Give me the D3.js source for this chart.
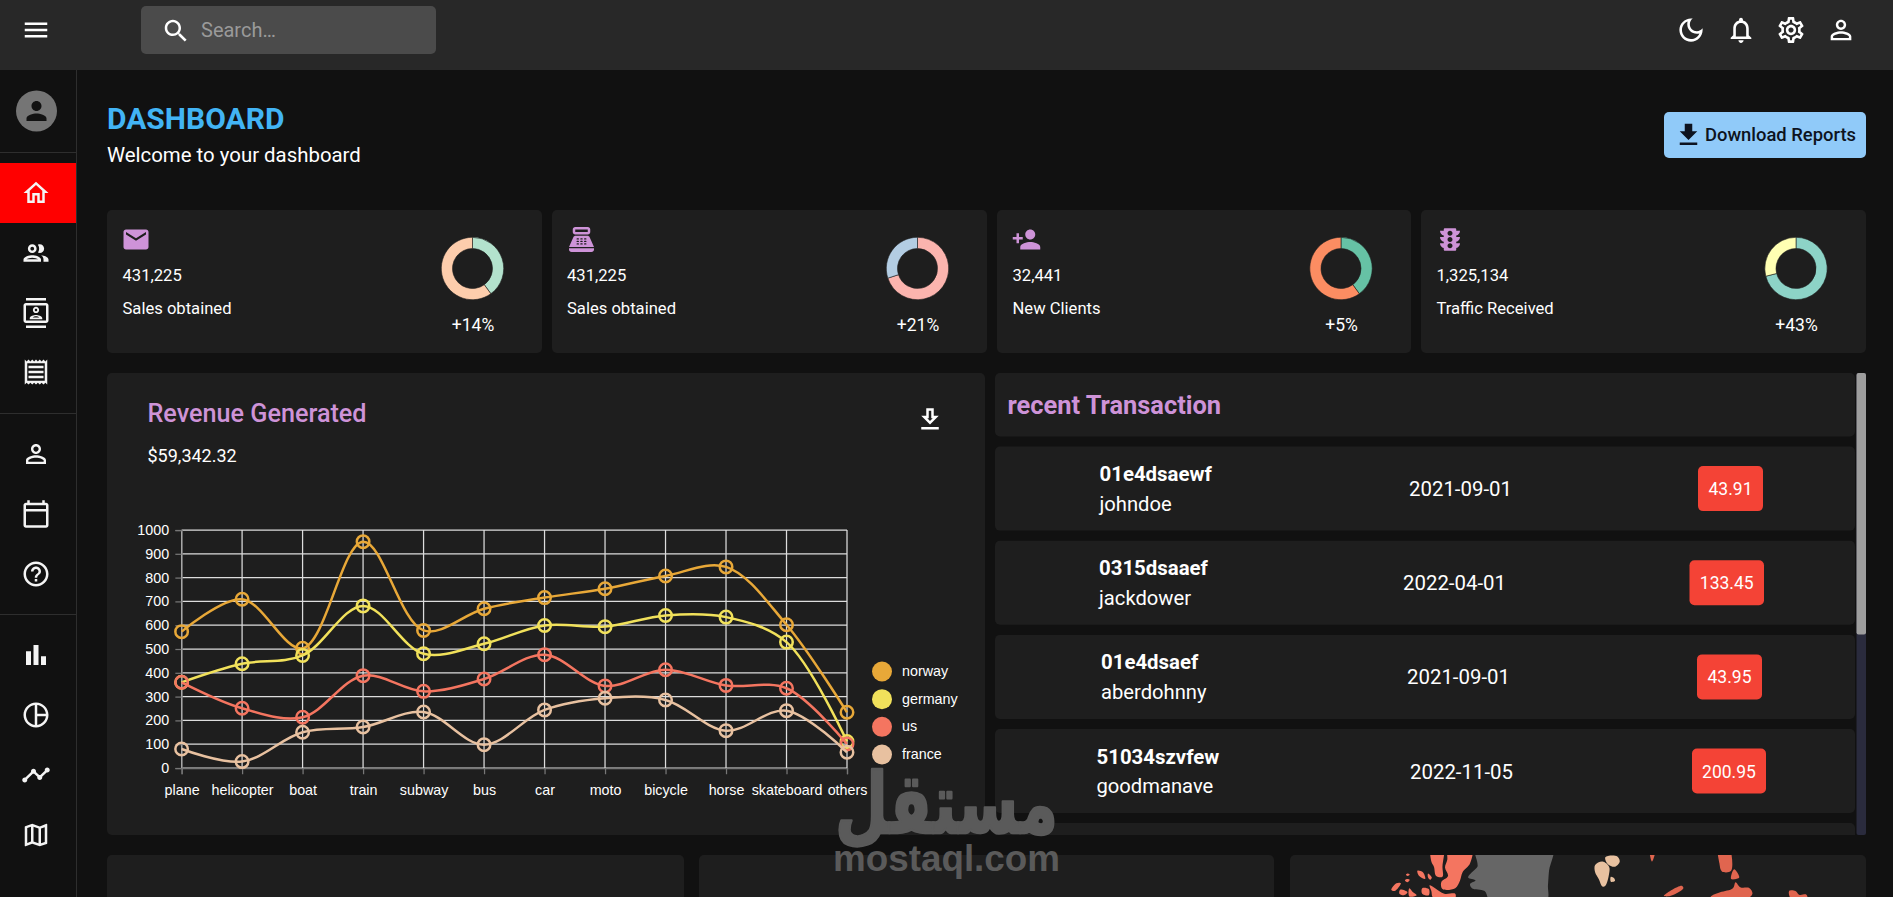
<!DOCTYPE html>
<html>
<head>
<meta charset="utf-8">
<title>Dashboard</title>
<script src="https://cdn.jsdelivr.net/npm/d3@7"></script>
<style>
html, body { margin: 0; padding: 0; background: #111111; overflow: hidden; }
svg { display: block; }
text { font-family: Roboto, sans-serif; fill: #fff; }
.chart text { font-family: "Liberation Sans", Arial, sans-serif; font-size: 14.3px; fill: #fff; }
</style>
</head>
<body>
<svg id="page" width="1893" height="897"></svg>
<script>
// line chart
const vehicles = ["plane", "helicopter", "boat", "train", "subway", "bus", "car", "moto", "bicycle", "horse", "skateboard", "others"];
const norway = [573, 709, 503, 951, 578, 669, 716, 753, 807, 845, 602, 234];
const germany = [360, 438, 473, 681, 480, 522, 599, 594, 641, 634, 529, 111];
const us = [360, 251, 213, 388, 322, 374, 476, 345, 413, 347, 335, 101];
const france = [80, 27, 150, 172, 235, 98, 244, 293, 286, 157, 241, 66];
const countryNames = ["norway", "germany", "us", "france"];
const yTicks = [0, 100, 200, 300, 400, 500, 600, 700, 800, 900, 1000];

// stat cards
const statValues = ["431,225", "431,225", "32,441", "1,325,134"];
const statLabels = ["Sales obtained", "Sales obtained", "New Clients", "Traffic Received"];
const statChanges = ["+14%", "+21%", "+5%", "+43%"];
const statShares = [[40, 60], [70, 30], [40, 60], [71, 29]];

// transactions
const txIds = ["01e4dsaewf", "0315dsaaef", "01e4dsaef", "51034szvfew"];
const txUsers = ["johndoe", "jackdower", "aberdohnny", "goodmanave"];
const txDates = ["2021-09-01", "2022-04-01", "2021-09-01", "2022-11-05"];
const txCosts = ["43.91", "133.45", "43.95", "200.95"];

// arctic edge of the map, [lon, lat]
const axelHeiberg = [[-97.7,82],[-89.6,82],[-90.3,79.5],[-90.3,78.2],[-94.5,78.3],[-96,79.5],[-97.7,80.1]];
const ellesmere = [[-86.6,82],[-70.7,82],[-71.9,79.9],[-76.9,78.8],[-78.6,77.7],[-81.8,76.55],[-90.3,76.4],[-91.1,77.45],[-86.6,78.3],[-88.6,79.4],[-87.1,80.3]];
const canadaSmall = [
  [[-107,79],[-103.3,78.8],[-101.8,77.9],[-105.8,78.3]],
  [[-113.6,78.65],[-112.1,78.5],[-113.6,78.3],[-114.6,78.5]],
  [[-114.1,77.9],[-112.1,77.8],[-113.6,77.45],[-115.3,77.7]],
  [[-99.9,78.65],[-97.4,78.1],[-98.4,77.8],[-99.9,78.1]],
  [[-121,77.3],[-118,77.3],[-122.2,76.1],[-124.4,76.3]],
  [[-118.5,76.3],[-113.6,75.9],[-116,75.4],[-119,75.65]],
  [[-112.4,76.55],[-109.9,75.9],[-107.5,75.4],[-112.4,75.2]],
  [[-103.8,76.55],[-99.4,76.4],[-99.4,75.4],[-103.8,75.65]],
  [[-98.9,77],[-95.2,76.55],[-89.1,75.65],[-81.8,75.65],[-81.8,75],[-96.5,75],[-97.7,76.1]]
];
const greenland = [[-68.3,82],[-16.8,82],[-19.3,79],[-20,77],[-21,74.5],[-58.5,74.5],[-62.2,76.1],[-70.7,76.55],[-71.9,77.2],[-68.3,77.7],[-73.2,78.1],[-70.7,78.8],[-67,79.5],[-67,79.9]];
const svalbard = [
  [[11.4,79.7],[16.3,80.1],[20.7,79.5],[20.7,78.6],[18.2,76.9],[16.3,76.8],[13.8,77.9],[11.4,78.8]],
  [[18.2,80.6],[26,80.7],[27.8,80.1],[24.8,79.5],[19.9,79.8]],
  [[21.9,78.2],[24.1,78],[24.6,77.6],[21.9,77.5]]
];
const russia = [
  [[47.6,82],[52,82],[49.3,80.1]],
  [[93.4,82],[99.6,82],[102,79],[95.9,78.9],[94.2,79.9]],
  [[104,79.2],[107.4,78.1],[102,77.9]],
  [[57.2,75.3],[69,76.9],[70.2,76.55],[62.8,75.4],[59.1,75.2]],
  [[88.5,75.2],[94.7,75.9],[103.2,76.55],[105,77.45],[108.1,76.7],[114.3,76.55],[116.2,75.65],[113,74.9],[88.5,74.9]],
  [[140.7,76.1],[144.9,76.1],[147.3,75.5],[152.2,75.5],[152.7,74.9],[141.7,74.9]]
];

// material icon paths
const icons = {
  menu: "M3 18h18v-2H3v2zm0-5h18v-2H3v2zm0-7v2h18V6H3z",
  search: "M15.5 14h-.79l-.28-.27C15.41 12.59 16 11.11 16 9.5 16 5.91 13.09 3 9.5 3S3 5.91 3 9.5 5.91 16 9.5 16c1.61 0 3.09-.59 4.23-1.57l.27.28v.79l5 4.99L20.49 19l-4.99-5zm-6 0C7.01 14 5 11.99 5 9.5S7.01 5 9.5 5 14 7.01 14 9.5 11.99 14 9.5 14z",
  moon: "M9.37 5.51c-.18.64-.27 1.31-.27 1.99 0 4.08 3.32 7.4 7.4 7.4.68 0 1.35-.09 1.99-.27C17.45 17.19 14.93 19 12 19c-3.86 0-7-3.14-7-7 0-2.93 1.81-5.45 4.37-6.49zM12 3c-4.97 0-9 4.03-9 9s4.03 9 9 9 9-4.03 9-9c0-.46-.04-.92-.1-1.36-.98 1.37-2.58 2.26-4.4 2.26-2.98 0-5.4-2.42-5.4-5.4 0-1.81.89-3.42 2.26-4.4-.44-.06-.9-.1-1.36-.1z",
  bell: "M12 22c1.1 0 2-.9 2-2h-4c0 1.1.9 2 2 2zm6-6v-5c0-3.07-1.63-5.64-4.5-6.32V4c0-.83-.67-1.5-1.5-1.5s-1.5.67-1.5 1.5v.68C7.64 5.36 6 7.92 6 11v5l-2 2v1h16v-1l-2-2zm-2 1H8v-6c0-2.48 1.51-4.5 4-4.5s4 2.02 4 4.5v6z",
  gear: "M19.43 12.98c.04-.32.07-.64.07-.98 0-.34-.03-.66-.07-.98l2.11-1.65c.19-.15.24-.42.12-.64l-2-3.46c-.09-.16-.26-.25-.44-.25-.06 0-.12.01-.17.03l-2.49 1c-.52-.4-1.08-.73-1.69-.98l-.38-2.65C14.46 2.18 14.25 2 14 2h-4c-.25 0-.46.18-.49.42l-.38 2.65c-.61.25-1.17.59-1.69.98l-2.49-1c-.06-.02-.12-.03-.18-.03-.17 0-.34.09-.43.25l-2 3.46c-.13.22-.07.49.12.64l2.11 1.65c-.04.32-.07.65-.07.98 0 .33.03.66.07.98l-2.11 1.65c-.19.15-.24.42-.12.64l2 3.46c.09.16.26.25.44.25.06 0 .12-.01.17-.03l2.49-1c.52.4 1.08.73 1.69.98l.38 2.65c.03.24.24.42.49.42h4c.25 0 .46-.18.49-.42l.38-2.65c.61-.25 1.17-.59 1.69-.98l2.49 1c.06.02.12.03.18.03.17 0 .34-.09.43-.25l2-3.46c.12-.22.07-.49-.12-.64l-2.11-1.65zm-1.98-1.71c.04.31.05.52.05.73 0 .21-.02.43-.05.73l-.14 1.13.89.7 1.08.84-.7 1.21-1.27-.51-1.04-.42-.9.68c-.43.32-.84.56-1.25.73l-1.06.43-.16 1.13-.2 1.35h-1.4l-.19-1.35-.16-1.13-1.06-.43c-.43-.18-.83-.41-1.23-.71l-.91-.7-1.06.43-1.27.51-.7-1.21 1.08-.84.89-.7-.14-1.13c-.03-.31-.05-.54-.05-.74s.02-.43.05-.73l.14-1.13-.89-.7-1.08-.84.7-1.21 1.27.51 1.04.42.9-.68c.43-.32.84-.56 1.25-.73l1.06-.43.16-1.13.2-1.35h1.39l.19 1.35.16 1.13 1.06.43c.43.18.83.41 1.23.71l.91.7 1.06-.43 1.27-.51.7 1.21-1.07.85-.89.7.14 1.13zM12 8c-2.21 0-4 1.79-4 4s1.79 4 4 4 4-1.79 4-4-1.79-4-4-4zm0 6c-1.1 0-2-.9-2-2s.9-2 2-2 2 .9 2 2-.9 2-2 2z",
  person: "M12 5.9c1.16 0 2.1.94 2.1 2.1s-.94 2.1-2.1 2.1S9.9 9.16 9.9 8s.94-2.1 2.1-2.1m0 9c2.97 0 6.1 1.46 6.1 2.1v1.1H5.9V17c0-.64 3.13-2.1 6.1-2.1M12 4C9.79 4 8 5.79 8 8s1.79 4 4 4 4-1.79 4-4-1.79-4-4-4zm0 9c-2.67 0-8 1.34-8 4v3h16v-3c0-2.66-5.33-4-8-4z",
  personSolid: "M12 12c2.21 0 4-1.79 4-4s-1.79-4-4-4-4 1.79-4 4 1.79 4 4 4zm0 2c-2.67 0-8 1.34-8 4v2h16v-2c0-2.66-5.33-4-8-4z",
  home: "M12 5.69l5 4.5V18h-2v-6H9v6H7v-7.81l5-4.5M12 3L2 12h3v8h6v-6h2v6h6v-8h3L12 3z",
  people: "M9 13.75c-2.34 0-7 1.17-7 3.5V19h14v-1.75c0-2.33-4.66-3.5-7-3.5zM4.34 17c.84-.58 2.87-1.25 4.66-1.25s3.82.67 4.66 1.25H4.34zM9 12c1.93 0 3.5-1.57 3.5-3.5S10.93 5 9 5 5.5 6.57 5.5 8.5 7.07 12 9 12zm0-5c.83 0 1.5.67 1.5 1.5S9.83 10 9 10s-1.5-.67-1.5-1.5S8.17 7 9 7zm7.04 6.81c1.16.84 1.96 1.96 1.96 3.44V19h4v-1.75c0-2.02-3.5-3.17-5.96-3.44zM15 12c1.93 0 3.5-1.57 3.5-3.5S16.93 5 15 5c-.54 0-1.04.13-1.5.35.63.89 1 1.98 1 3.15s-.37 2.26-1 3.15c.46.22.96.35 1.5.35z",
  contacts: "M20 0H4v2h16V0zM4 24h16v-2H4v2zM20 4H4c-1.1 0-2 .9-2 2v12c0 1.1.9 2 2 2h16c1.1 0 2-.9 2-2V6c0-1.1-.9-2-2-2zm0 14H4V6h16v12zm-8-6c1.38 0 2.5-1.12 2.5-2.5S13.38 7 12 7 9.5 8.12 9.5 9.5 10.62 12 12 12zm0-3.5c.55 0 1 .45 1 1s-.45 1-1 1-1-.45-1-1 .45-1 1-1zM17 17v-1c0-1.67-3.33-2.5-5-2.5s-5 .83-5 2.5v1h10zm-5-2.5c.9 0 2 .3 2.7 1H9.3c.7-.7 1.8-1 2.7-1z",
  receipt: "M19.5 3.5 18 2l-1.5 1.5L15 2l-1.5 1.5L12 2l-1.5 1.5L9 2 7.5 3.5 6 2 4.5 3.5 3 2v20l1.5-1.5L6 22l1.5-1.5L9 22l1.5-1.5L12 22l1.5-1.5L15 22l1.5-1.5L18 22l1.5-1.5L21 22V2l-1.5 1.5zM19 19.09H5V4.91h14v14.18zM6 15h12v2H6zm0-4h12v2H6zm0-4h12v2H6z",
  calendar: "M20 3h-1V1h-2v2H7V1H5v2H4c-1.1 0-2 .9-2 2v16c0 1.1.9 2 2 2h16c1.1 0 2-.9 2-2V5c0-1.1-.9-2-2-2zm0 2v3H4V5h16zM4 21V10h16v11H4z",
  help: "M11 18h2v-2h-2v2zm1-16C6.48 2 2 6.48 2 12s4.48 10 10 10 10-4.48 10-10S17.52 2 12 2zm0 18c-4.41 0-8-3.59-8-8s3.59-8 8-8 8 3.59 8 8-3.59 8-8 8zm0-14c-2.21 0-4 1.79-4 4h2c0-1.1.9-2 2-2s2 .9 2 2c0 2-3 1.75-3 5h2c0-2.25 3-2.5 3-5 0-2.21-1.79-4-4-4z",
  bar: "M4 9h4v11H4zm12 4h4v7h-4zm-6-9h4v16h-4z",
  pie: "M12 2C6.48 2 2 6.48 2 12s4.48 10 10 10 10-4.48 10-10S17.52 2 12 2zm7.93 9H13V4.07c3.61.45 6.48 3.32 6.93 6.93zM4 12c0-4.07 3.06-7.44 7-7.93v15.86c-3.94-.49-7-3.86-7-7.93zm9 7.93V13h6.93c-.45 3.61-3.32 6.48-6.93 6.93z",
  timeline: "M23 8c0 1.1-.9 2-2 2-.18 0-.35-.02-.51-.07l-3.56 3.55c.05.16.07.34.07.52 0 1.1-.9 2-2 2s-2-.9-2-2c0-.18.02-.36.07-.52l-2.55-2.55c-.16.05-.34.07-.52.07s-.36-.02-.52-.07l-4.55 4.56c.05.16.07.33.07.51 0 1.1-.9 2-2 2s-2-.9-2-2 .9-2 2-2c.18 0 .35.02.51.07l4.56-4.55C8.02 9.36 8 9.18 8 9c0-1.1.9-2 2-2s2 .9 2 2c0 .18-.02.36-.07.52l2.55 2.55c.16-.05.34-.07.52-.07s.36.02.52.07l3.55-3.56C19.02 8.35 19 8.18 19 8c0-1.1.9-2 2-2s2 .9 2 2z",
  map: "M20.5 3l-.16.03L15 5.1 9 3 3.36 4.9c-.21.07-.36.25-.36.48V20.5c0 .28.22.5.5.5l.16-.03L9 18.9l6 2.1 5.64-1.9c.21-.07.36-.25.36-.48V3.5c0-.28-.22-.5-.5-.5zM10 5.47l4 1.4v11.66l-4-1.4V5.47zm-5 .99l3-1.01v11.7l-3 1.16V6.46zm14 11.08l-3 1.01V6.86l3-1.16v11.84z",
  download: "M5 20h14v-2H5v2zM19 9h-4V3H9v6H5l7 7 7-7z",
  downloadOutline: "M5 18h14v2H5v-2zm14-9h-4V3H9v6H5l7 7 7-7zm-8 2V5h2v6h1.17L12 13.17 9.83 11H11z",
  email: "M20 4H4c-1.1 0-1.99.9-1.99 2L2 18c0 1.1.9 2 2 2h16c1.1 0 2-.9 2-2V6c0-1.1-.9-2-2-2zm0 4l-8 5-8-5V6l8 5 8-5v2z",
  pos: "M17 2H7c-1.1 0-2 .9-2 2v2c0 1.1.9 2 2 2h10c1.1 0 2-.9 2-2V4c0-1.1-.9-2-2-2zm0 4H7V4h10v2zm3 16H4c-1.1 0-2-.9-2-2v-1h20v1c0 1.1-.9 2-2 2zm-1.47-11.81C18.21 9.47 17.49 9 16.7 9H7.3c-.79 0-1.51.47-1.83 1.19L2 18h20l-3.47-7.81zM9.5 16h-1c-.28 0-.5-.22-.5-.5s.22-.5.5-.5h1c.28 0 .5.22.5.5s-.22.5-.5.5zm0-2h-1c-.28 0-.5-.22-.5-.5s.22-.5.5-.5h1c.28 0 .5.22.5.5s-.22.5-.5.5zm0-2h-1c-.28 0-.5-.22-.5-.5s.22-.5.5-.5h1c.28 0 .5.22.5.5s-.22.5-.5.5zm3 4h-1c-.28 0-.5-.22-.5-.5s.22-.5.5-.5h1c.28 0 .5.22.5.5s-.22.5-.5.5zm0-2h-1c-.28 0-.5-.22-.5-.5s.22-.5.5-.5h1c.28 0 .5.22.5.5s-.22.5-.5.5zm0-2h-1c-.28 0-.5-.22-.5-.5s.22-.5.5-.5h1c.28 0 .5.22.5.5s-.22.5-.5.5zm3 4h-1c-.28 0-.5-.22-.5-.5s.22-.5.5-.5h1c.28 0 .5.22.5.5s-.22.5-.5.5zm0-2h-1c-.28 0-.5-.22-.5-.5s.22-.5.5-.5h1c.28 0 .5.22.5.5s-.22.5-.5.5zm0-2h-1c-.28 0-.5-.22-.5-.5s.22-.5.5-.5h1c.28 0 .5.22.5.5s-.22.5-.5.5z",
  personAdd: "M15 12c2.21 0 4-1.79 4-4s-1.79-4-4-4-4 1.79-4 4 1.79 4 4 4zm-9-2V7H4v3H1v2h3v3h2v-3h3v-2H6zm9 4c-2.67 0-8 1.34-8 4v2h16v-2c0-2.66-5.33-4-8-4z",
  traffic: "M20 10h-3V8.86c1.72-.45 3-2 3-3.86h-3V4c0-.55-.45-1-1-1H8c-.55 0-1 .45-1 1v1H4c0 1.86 1.28 3.41 3 3.86V10H4c0 1.86 1.28 3.41 3 3.86V15H4c0 1.86 1.28 3.41 3 3.86V20c0 .55.45 1 1 1h8c.55 0 1-.45 1-1v-1.14c1.72-.45 3-2 3-3.86h-3v-1.14c1.72-.45 3-2 3-3.86zm-8 9c-1.11 0-2-.9-2-2s.89-2 2-2c1.1 0 2 .9 2 2s-.89 2-2 2zm0-5c-1.11 0-2-.9-2-2s.89-2 2-2c1.1 0 2 .9 2 2s-.89 2-2 2zm0-5c-1.11 0-2-.89-2-2 0-1.1.89-2 2-2 1.1 0 2 .9 2 2 0 1.11-.89 2-2 2z"
};

const svg = d3.select("#page");
const cardFill = "#1e1e1e";
const purple = "#ce93d8";

function rect(x0, y0, x1, y1, fill, r) {
  return svg.append("rect").attr("x", x0).attr("y", y0)
    .attr("width", x1 - x0).attr("height", y1 - y0)
    .attr("rx", r || 0).attr("fill", fill);
}
function icon(name, cx, cy, size, fill) {
  const k = size / 24;
  svg.append("path").attr("d", icons[name]).attr("fill", fill)
    .attr("transform", `translate(${cx - size / 2},${cy - size / 2}) scale(${k})`);
}
function label(str, x, y, size, weight, fill, anchor) {
  return svg.append("text").text(str).attr("x", x).attr("y", y)
    .attr("font-size", size).attr("font-weight", weight || 400)
    .style("fill", fill || "#fff").attr("text-anchor", anchor || "start");
}

// background, top bar, side bar
rect(0, 0, 1893, 897, "#111111");
rect(0, 0, 1893, 70, "#282828");
rect(141, 6, 436, 54, "#4b4b4b", 5);
icon("menu", 36, 30, 30, "#fff");
icon("search", 176, 31, 30, "#fff");
label("Search…", 201, 37, 20, 400, "#9a9a9a");
icon("moon", 1691, 30, 31, "#fff");
icon("bell", 1741, 30, 31, "#fff");
icon("gear", 1791, 30, 31, "#fff");
icon("person", 1841, 30, 31, "#fff");

rect(76, 70, 77, 897, "#2e2e2e");
rect(0, 152, 76, 153, "#2e2e2e");
rect(0, 413, 76, 414, "#2e2e2e");
rect(0, 614, 76, 615, "#2e2e2e");
rect(0, 163, 76, 223, "#ff0000");
svg.append("circle").attr("cx", 36.5).attr("cy", 111).attr("r", 20.5).attr("fill", "#757575");
icon("personSolid", 36.5, 111, 30, "#121212");
const navIcons = ["home", "people", "contacts", "receipt", "person", "calendar", "help", "bar", "pie", "timeline", "map"];
const navY = [193, 253, 313, 372, 454, 514, 574, 655, 715, 775, 835];
navIcons.forEach((name, i) => icon(name, 36, navY[i], 30, "#f4f4f4"));

// header
label("DASHBOARD", 107, 129, 30, 700, "#42b4f5");
label("Welcome to your dashboard", 107, 162, 20.4, 400);
rect(1664, 112, 1866, 158, "#90caf9", 5);
icon("download", 1688.5, 135, 30, "#0d1320");
label("Download Reports", 1705, 141, 18.4, 500, "#0d1320");

// stat cards
const cardX = [[107, 542], [552, 987], [997, 1411], [1421, 1866]];
const cardTextX = [122.5, 567, 1012.5, 1436.5];
const cardIconX = [136, 581.5, 1026.5, 1450];
const cardIcons = ["email", "pos", "personAdd", "traffic"];
const donutX = [472.5, 917.5, 1341, 1796];
const donutColors = [d3.schemePastel2, d3.schemePastel1, d3.schemeSet2, d3.schemeSet3];
const pie = d3.pie().sort(null);
const arc = d3.arc().innerRadius(20).outerRadius(31.2);

statValues.forEach((val, i) => {
  rect(cardX[i][0], 210, cardX[i][1], 353, cardFill, 5);
  icon(cardIcons[i], cardIconX[i], 239.5, 30, purple);
  label(val, cardTextX[i], 281, 16.6);
  label(statLabels[i], cardTextX[i], 314, 16.6);
  svg.append("g").attr("transform", `translate(${donutX[i]},268.5)`)
    .selectAll("path").data(pie(statShares[i])).join("path")
    .attr("d", arc)
    .attr("fill", (d, j) => donutColors[i][j])
    .attr("stroke", cardFill).attr("stroke-width", 0.6);
  label(statChanges[i], donutX[i] + 0.5, 331, 17.5, 400, "#fff", "middle");
});

// revenue panel
rect(107, 373, 985, 835, cardFill, 5);
label("Revenue Generated", 147.5, 421.5, 25.2, 500, purple);
label("$59,342.32", 147.5, 461.5, 18);
icon("downloadOutline", 930, 419.5, 30, "#fff");

const x = d3.scalePoint().domain(vehicles).range([181.6, 847]);
const y = d3.scaleLinear().domain([0, 1000]).range([768, 530]);
const chart = svg.append("g").attr("class", "chart");

chart.append("g").selectAll("line").data(yTicks).join("line")
  .attr("x1", x.range()[0]).attr("x2", x.range()[1])
  .attr("y1", d => y(d)).attr("y2", d => y(d))
  .attr("stroke", "#ddd").attr("stroke-width", 1.25);
chart.append("g").selectAll("line").data(vehicles).join("line")
  .attr("x1", d => x(d)).attr("x2", d => x(d))
  .attr("y1", y(0)).attr("y2", y(1000))
  .attr("stroke", "#ddd").attr("stroke-width", 1.25);

const xAxis = chart.append("g").attr("transform", `translate(0,${y(0)})`)
  .call(d3.axisBottom(x).tickSize(6.25).tickPadding(11));
const yAxis = chart.append("g").attr("transform", `translate(${x.range()[0]},0)`)
  .call(d3.axisLeft(y).tickValues(yTicks).tickFormat(d3.format("d")).tickSize(6.25).tickPadding(6.25));
[xAxis, yAxis].forEach(a => {
  a.attr("font-family", null).attr("font-size", null);
  a.selectAll("path.domain").attr("stroke", "#777").attr("stroke-width", 1.25);
  a.selectAll("line").attr("stroke", "#777").attr("stroke-width", 1.25);
});

const series = [norway, germany, us, france];
const seriesColor = d3.scaleOrdinal().domain(countryNames).range(["#e8a838", "#f1e15b", "#f47560", "#e8c1a0"]);
const line = d3.line().x((d, i) => x(vehicles[i])).y(d => y(d)).curve(d3.curveCatmullRom);

countryNames.forEach((name, s) => {
  const g = chart.append("g");
  g.append("path").attr("d", line(series[s])).attr("fill", "none")
    .attr("stroke", seriesColor(name)).attr("stroke-width", 2.5);
  g.selectAll("circle").data(series[s]).join("circle")
    .attr("cx", (d, i) => x(vehicles[i])).attr("cy", d => y(d)).attr("r", 6.25)
    .attr("fill", "none").attr("stroke", seriesColor(name)).attr("stroke-width", 2.5);
});

const legendY = d3.scalePoint().domain(countryNames).range([671.5, 754.5]);
chart.append("g").selectAll("circle").data(countryNames).join("circle")
  .attr("cx", 882).attr("cy", d => legendY(d)).attr("r", 10)
  .attr("fill", d => seriesColor(d));
chart.append("g").selectAll("text").data(countryNames).join("text")
  .attr("x", 902).attr("y", d => legendY(d) + 4.5).text(d => d);

// recent transactions
const rowTop = [446.6, 540.8, 634.9, 729];
const rowIdX = [1099.5, 1099, 1101, 1096.5];
const rowDateX = [1409, 1403, 1407, 1410];
const badgeX = [[1698, 1763], [1689.5, 1764], [1697, 1762], [1692, 1766]];

rect(995, 373, 1855, 436.5, cardFill, 5);
label("recent Transaction", 1007.5, 413.5, 25.4, 700, purple);
txIds.forEach((id, i) => {
  const t = rowTop[i];
  rect(995, t, 1855, t + 84, cardFill, 5);
  label(id, rowIdX[i], t + 34.5, 20.4, 700);
  label(txUsers[i], rowIdX[i], t + 64, 20.2);
  label(txDates[i], rowDateX[i], t + 49.5, 20.4);
  rect(badgeX[i][0], t + 19.5, badgeX[i][1], t + 64.5, "#f44336", 5);
  label(txCosts[i], (badgeX[i][0] + badgeX[i][1]) / 2, t + 48.5, 17.5, 400, "#fff", "middle");
});
// next row, cut by the scroll box
svg.append("clipPath").attr("id", "rowClip").append("rect")
  .attr("x", 995).attr("y", 373).attr("width", 860).attr("height", 462);
rect(995, 823, 1855, 907, cardFill, 5).attr("clip-path", "url(#rowClip)");
rect(1856.5, 373, 1866, 835, "#2a2b3d", 2);
rect(1856.5, 373, 1866, 634.5, "#9e9e9e", 2);

// bottom panels
rect(107, 855, 684, 910, cardFill, 5);
rect(699, 855, 1274, 910, cardFill, 5);
rect(1290, 855, 1866, 910, cardFill, 5);

const projection = d3.geoMercator().scale(86).translate([1578, 1072]);
const land = d3.line().x(d => projection(d)[0]).y(d => projection(d)[1]).curve(d3.curveCatmullRomClosed);
svg.append("clipPath").attr("id", "mapClip").append("rect")
  .attr("x", 1290).attr("y", 855).attr("width", 576).attr("height", 42);
const mapG = svg.append("g").attr("clip-path", "url(#mapClip)");
function drawLand(rings, fill) {
  mapG.append("g").selectAll("path").data(rings).join("path")
    .attr("d", land).attr("fill", fill);
}
drawLand([axelHeiberg, ellesmere].concat(canadaSmall), "#f47560");
drawLand([greenland], "#666666");
drawLand(svalbard, "#e8c1a0");
drawLand(russia, "#e0654f");

// watermark
svg.append("text").text("مستقل").attr("x", 946.5).attr("y", 833)
  .attr("text-anchor", "middle").attr("direction", "rtl")
  .attr("font-size", 84).attr("font-weight", 700)
  .style("font-family", "'DejaVu Sans', sans-serif").style("fill", "#5e5e5e")
  .style("stroke", "#5e5e5e").style("stroke-width", 2.5).style("stroke-linejoin", "round")
  .attr("textLength", 223).attr("lengthAdjust", "spacingAndGlyphs").attr("opacity", 0.95);
svg.append("text").text("mostaql.com").attr("x", 946.5).attr("y", 871)
  .attr("text-anchor", "middle").attr("font-size", 36).attr("font-weight", 700)
  .style("font-family", "'Liberation Sans', sans-serif").style("fill", "#5e5e5e")
  .attr("textLength", 227).attr("lengthAdjust", "spacingAndGlyphs").attr("opacity", 0.95);
</script>
</body>
</html>
